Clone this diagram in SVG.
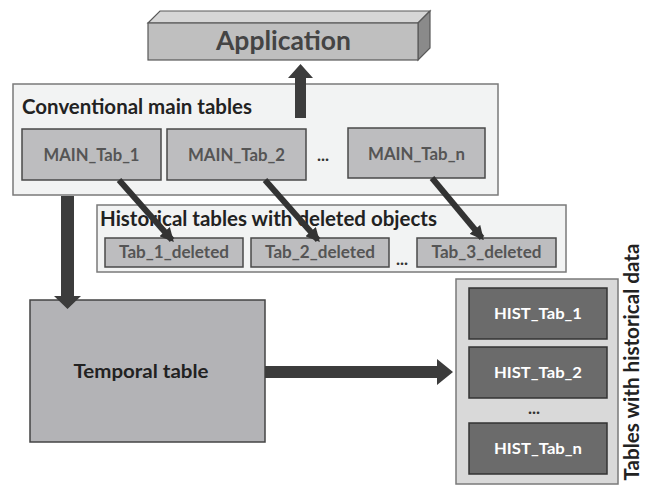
<svg xmlns="http://www.w3.org/2000/svg" width="647" height="486" viewBox="0 0 647 486">
  <style>
    text { font-family: Lato, "Open Sans", "Liberation Sans", sans-serif; font-weight: bold; }
    .panel { fill: #f2f3f3; stroke: #7a7a7a; stroke-width: 1.5; }
    .tab { fill: #bdbdbf; stroke: #4a4a4a; stroke-width: 1.5; }
    .tabtxt { fill: #555555; font-size: 16.5px; text-anchor: middle; }
    .head { fill: #222222; font-size: 20px; }
    .hist { fill: #6b6b6b; stroke: #333333; stroke-width: 1.5; }
    .histtxt { fill: #ffffff; font-size: 16px; text-anchor: middle; }
    .dots { fill: #333333; font-size: 17px; }
    .block { fill: #3c3c3c; }
    .diag { stroke: #333333; stroke-width: 6; fill: none; marker-end: url(#tip); }
  </style>
  <defs>
    <marker id="tip" viewBox="0 0 10 10" refX="8" refY="5" markerWidth="14" markerHeight="14" markerUnits="userSpaceOnUse" orient="auto">
      <path d="M0,0 L10,5 L0,10 z" fill="#333333"/>
    </marker>
  </defs>

  <!-- Application block (3D bar) -->
  <g id="application">
    <polygon points="148,23 160,11 430,11 418,23" fill="#d6d6d6" stroke="#595959" stroke-width="1.2"/>
    <polygon points="418,23 430,11 430,48 418,60" fill="#8a8a8a" stroke="#595959" stroke-width="1.2"/>
    <rect x="148" y="23" width="270" height="37" fill="#bfbfbf" stroke="#595959" stroke-width="1.2"/>
    <text x="283.5" y="50" font-size="26" fill="#444444" text-anchor="middle" textLength="135" lengthAdjust="spacingAndGlyphs">Application</text>
  </g>

  <!-- Conventional main tables -->
  <g id="main-tables">
    <rect class="panel" x="13" y="84" width="485" height="111"/>
    <text class="head" x="22" y="114" textLength="230" lengthAdjust="spacingAndGlyphs">Conventional main tables</text>
  </g>
  <g id="main-tab-1">
    <rect class="tab" x="22" y="129" width="139" height="51"/>
    <text class="tabtxt" x="91.5" y="161" textLength="96" lengthAdjust="spacingAndGlyphs">MAIN_Tab_1</text>
  </g>
  <g id="main-tab-2">
    <rect class="tab" x="167" y="129" width="139" height="51"/>
    <text class="tabtxt" x="236.5" y="161" textLength="97" lengthAdjust="spacingAndGlyphs">MAIN_Tab_2</text>
  </g>
  <text class="dots" x="317" y="161">...</text>
  <g id="main-tab-n">
    <rect class="tab" x="348" y="128" width="137" height="50"/>
    <text class="tabtxt" x="416.5" y="160" textLength="97" lengthAdjust="spacingAndGlyphs">MAIN_Tab_n</text>
  </g>

  <!-- Historical tables with deleted objects -->
  <g id="deleted-tables">
    <rect class="panel" x="97" y="205" width="469" height="67"/>
    <text class="head" x="100" y="226" font-size="19" textLength="337" lengthAdjust="spacingAndGlyphs">Historical tables with deleted objects</text>
  </g>
  <g id="tab-1-deleted">
    <rect class="tab" x="105" y="238" width="138" height="29"/>
    <text class="tabtxt" x="174" y="258" textLength="110" lengthAdjust="spacingAndGlyphs">Tab_1_deleted</text>
  </g>
  <g id="tab-2-deleted">
    <rect class="tab" x="251" y="238" width="138" height="29"/>
    <text class="tabtxt" x="320" y="258" textLength="110" lengthAdjust="spacingAndGlyphs">Tab_2_deleted</text>
  </g>
  <text class="dots" x="396" y="265">...</text>
  <g id="tab-3-deleted">
    <rect class="tab" x="417" y="238" width="139" height="29"/>
    <text class="tabtxt" x="486.5" y="258" textLength="110" lengthAdjust="spacingAndGlyphs">Tab_3_deleted</text>
  </g>

  <!-- Temporal table -->
  <g id="temporal-table">
    <rect x="30" y="300" width="235" height="142" fill="#b3b3b6" stroke="#444444" stroke-width="1.5"/>
    <text x="141" y="378" font-size="19" fill="#222222" text-anchor="middle" textLength="135" lengthAdjust="spacingAndGlyphs">Temporal table</text>
  </g>

  <!-- Tables with historical data -->
  <g id="history-tables">
    <rect x="456" y="279" width="162" height="205" fill="#d9d9d9" stroke="#7a7a7a" stroke-width="1.5"/>
    <text x="639" y="362" font-size="20" fill="#222222" text-anchor="middle" transform="rotate(-90 639 362)" textLength="237" lengthAdjust="spacingAndGlyphs">Tables with historical data</text>
  </g>
  <g id="hist-tab-1">
    <rect class="hist" x="469" y="288" width="138" height="51"/>
    <text class="histtxt" x="538" y="319" textLength="88" lengthAdjust="spacingAndGlyphs">HIST_Tab_1</text>
  </g>
  <g id="hist-tab-2">
    <rect class="hist" x="469" y="347" width="138" height="51"/>
    <text class="histtxt" x="538" y="378" textLength="88" lengthAdjust="spacingAndGlyphs">HIST_Tab_2</text>
  </g>
  <text class="dots" x="528" y="414">...</text>
  <g id="hist-tab-n">
    <rect class="hist" x="469" y="423" width="138" height="51"/>
    <text class="histtxt" x="538" y="454" textLength="88" lengthAdjust="spacingAndGlyphs">HIST_Tab_n</text>
  </g>

  <!-- Connectors -->
  <g id="connectors">
    <!-- main tables feed the application -->
    <polygon class="block" points="295,118 306,118 306,78 313,78 300.5,64 288,78 295,78"/>
    <!-- main tables feed the temporal table -->
    <polygon class="block" points="61,196 74,196 74,296 81,296 67.5,309 54,296 61,296"/>
    <!-- temporal table feeds the history tables -->
    <polygon class="block" points="265,366 437,366 437,359 453,372 437,385 437,378 265,378"/>
    <!-- deleted rows move to the deletion tables -->
    <line class="diag" x1="119" y1="180" x2="172" y2="240"/>
    <line class="diag" x1="265" y1="180" x2="318" y2="240"/>
    <line class="diag" x1="432" y1="178" x2="482" y2="238"/>
  </g>
</svg>
